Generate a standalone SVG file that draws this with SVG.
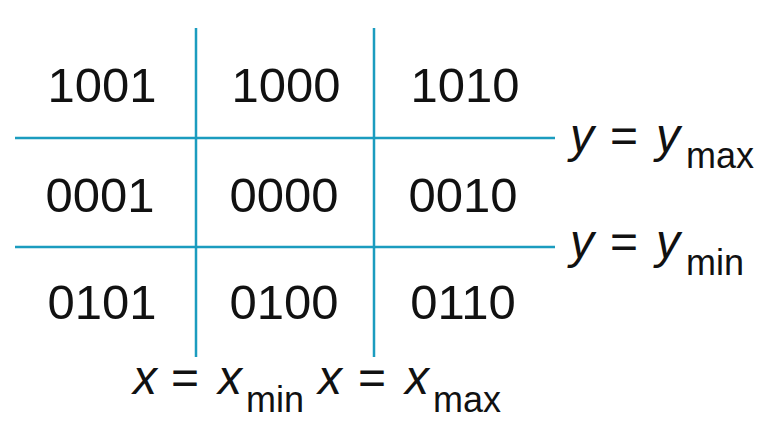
<svg xmlns="http://www.w3.org/2000/svg" width="770" height="444" viewBox="0 0 770 444">
<style>
.ln{stroke:#1b9cbf;stroke-width:2.5;fill:none}
.code{font-family:"Liberation Sans",Arial,sans-serif;font-size:49px;fill:#111;text-anchor:middle}
.lab{font-family:"Liberation Sans",Arial,sans-serif;font-size:48px;fill:#111}
.it{font-style:italic}
.sub{font-size:36px}
</style>
<rect width="770" height="444" fill="#fff"/>
<g id="connectors">
<line class="ln" x1="15" y1="138" x2="555" y2="138"/>
<line class="ln" x1="15" y1="247" x2="555" y2="247"/>
<line class="ln" x1="196" y1="28" x2="196" y2="357"/>
<line class="ln" x1="374" y1="28" x2="374" y2="357"/>
</g>
<g id="r1c1"><text class="code" x="102" y="102">1001</text></g>
<g id="r1c2"><text class="code" x="286" y="102">1000</text></g>
<g id="r1c3"><text class="code" x="465" y="102">1010</text></g>
<g id="r2c1"><text class="code" x="100" y="212">0001</text></g>
<g id="r2c2"><text class="code" x="284" y="212">0000</text></g>
<g id="r2c3"><text class="code" x="463" y="212">0010</text></g>
<g id="r3c1"><text class="code" x="102" y="319">0101</text></g>
<g id="r3c2"><text class="code" x="284" y="319">0100</text></g>
<g id="r3c3"><text class="code" x="463" y="319">0110</text></g>
<g id="ymax"><text class="lab" y="152"><tspan class="it" x="570">y</tspan><tspan x="610">=</tspan><tspan class="it" x="656">y</tspan><tspan class="sub" x="686" y="168">max</tspan></text></g>
<g id="ymin"><text class="lab" y="258"><tspan class="it" x="570">y</tspan><tspan x="610">=</tspan><tspan class="it" x="656">y</tspan><tspan class="sub" x="686" y="275">min</tspan></text></g>
<g id="xmin"><text class="lab" y="394"><tspan class="it" x="133">x</tspan><tspan x="171">=</tspan><tspan class="it" x="218">x</tspan><tspan class="sub" x="246" y="412">min</tspan></text></g>
<g id="xmax"><text class="lab" y="394"><tspan class="it" x="318">x</tspan><tspan x="358">=</tspan><tspan class="it" x="405">x</tspan><tspan class="sub" x="433" y="412">max</tspan></text></g>
</svg>
